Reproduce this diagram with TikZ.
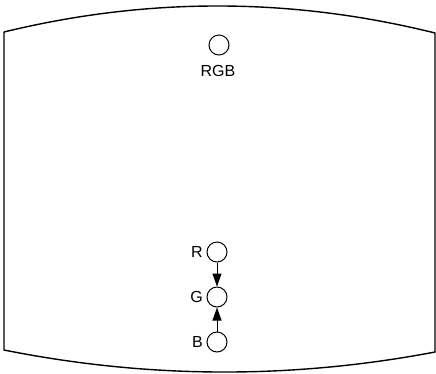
\documentclass[tikz,border=0pt]{standalone}
\usepackage{fontspec}
\setmainfont{Liberation Sans}
\usetikzlibrary{arrows.meta}
\begin{document}
\begin{tikzpicture}[x=1pt,y=-1pt,
  frame/.style={line width=1.4pt,line join=round},
  dot/.style={circle,draw,line width=1pt,minimum size=20pt,inner sep=0pt},
  lbl/.style={font=\fontsize{16}{16}\selectfont,inner sep=0pt},
  conn/.style={line width=1pt,-{Triangle[length=13pt,width=9pt]}}]
\useasboundingbox (0,0) rectangle (436,373);
\draw[frame] (4,32) .. controls (147.7,-3) and (291.3,-2.7) .. (435,33)
  -- (435,352) .. controls (291.3,379.3) and (147.7,378.7) .. (4,350) -- cycle;
\node[dot] (rgb) at (219,45) {};
\node[lbl,anchor=north] (rgbl) at (218,65) {RGB};
\node[dot] (r) at (217,252) {};
\node[dot] (g) at (217,297) {};
\node[dot] (b) at (217,342) {};
\node[lbl,anchor=east] (rl) at (203,252) {R};
\node[lbl,anchor=east] (gl) at (203,297) {G};
\node[lbl,anchor=east] (bl) at (203,342) {B};
\draw[conn] (r) -- (g);
\draw[conn] (b) -- (g);
\end{tikzpicture}
\end{document}
